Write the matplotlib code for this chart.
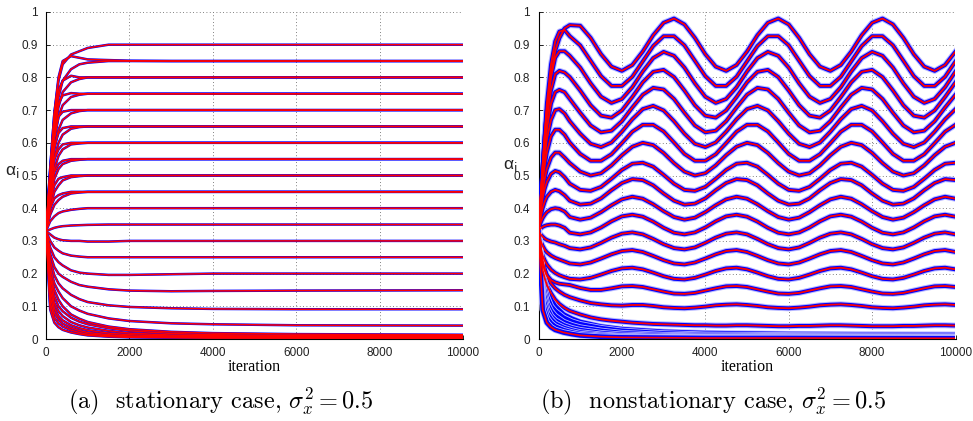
import matplotlib
matplotlib.use("Agg")
import matplotlib.pyplot as plt
from matplotlib.ticker import FuncFormatter

plt.rcParams['mathtext.fontset'] = 'cm'

# ---------------- data: stationary case (panel a) ----------------
T_A = [0, 100, 200, 300, 400, 600, 800, 1000, 1500, 2000, 3000, 4000, 6000, 10000]

A90 = [.33, .52, .69, .79, .84, .87, .88, .89, .90, .90, .90, .90, .90, .90]
A85 = [.33, .52, .69, .80, .85, .865, .86, .855, .853, .851, .85, .85, .85, .85]
A80 = [.33, .51, .67, .76, .79, .805, .80, .80, .80, .80, .80, .80, .80, .80]
A75 = [.33, .50, .65, .72, .745, .752, .75, .75, .75, .75, .75, .75, .75, .75]
A70 = [.33, .49, .62, .68, .695, .70, .70, .70, .70, .70, .70, .70, .70, .70]
A65 = [.33, .48, .59, .63, .645, .65, .65, .65, .65, .65, .65, .65, .65, .65]
A60 = [.33, .46, .55, .58, .595, .60, .60, .60, .60, .60, .60, .60, .60, .60]
A55 = [.33, .44, .51, .535, .545, .55, .55, .55, .55, .55, .55, .55, .55, .55]
A50 = [.33, .42, .47, .49, .495, .50, .50, .50, .50, .50, .50, .50, .50, .50]
A45 = [.33, .40, .43, .44, .445, .45, .45, .45, .45, .45, .45, .45, .45, .45]
A40 = [.33, .36, .375, .385, .39, .395, .398, .40, .40, .40, .40, .40, .40, .40]
A35 = [.33, .335, .34, .343, .345, .347, .348, .349, .35, .35, .35, .35, .35, .35]
A30 = [.33, .32, .31, .305, .302, .30, .30, .298, .298, .30, .30, .30, .30, .30]
A25 = [.33, .30, .28, .27, .262, .255, .252, .25, .25, .25, .25, .25, .25, .25]
A20 = [.33, .28, .25, .235, .225, .21, .203, .20, .196, .196, .198, .20, .20, .20]
A15 = [.33, .26, .22, .20, .19, .175, .165, .16, .152, .148, .146, .147, .148, .149]
A10 = [.33, .24, .195, .17, .155, .135, .122, .113, .103, .098, .094, .092, .091, .091]
A04 = [.33, .22, .17, .145, .125, .10, .087, .077, .063, .055, .048, .045, .042, .041]

# slower companions of the rising curves
S85 = [.33, .50, .65, .74, .79, .825, .84, .845, .85, .85, .85, .85, .85, .85]
S80 = [.33, .49, .63, .71, .755, .785, .795, .80, .80, .80, .80, .80, .80, .80]
S75 = [.33, .48, .61, .68, .715, .74, .747, .75, .75, .75, .75, .75, .75, .75]
S70 = [.33, .47, .58, .64, .67, .69, .697, .70, .70, .70, .70, .70, .70, .70]
S65 = [.33, .46, .55, .60, .625, .643, .648, .65, .65, .65, .65, .65, .65, .65]
S60 = [.33, .44, .52, .56, .58, .595, .598, .60, .60, .60, .60, .60, .60, .60]
S55 = [.33, .42, .49, .52, .535, .545, .548, .55, .55, .55, .55, .55, .55, .55]
S50 = [.33, .40, .45, .47, .485, .495, .498, .50, .50, .50, .50, .50, .50, .50]
S45 = [.33, .38, .41, .425, .435, .445, .448, .45, .45, .45, .45, .45, .45, .45]

# curves that die out towards zero (shared by both panels)
B1 = [.33, .20, .15, .12, .10, .075, .062, .052, .038, .030, .022, .018, .015, .013]
B2 = [.33, .19, .13, .10, .085, .065, .053, .045, .033, .025, .017, .013, .011, .010]
B3 = [.33, .17, .11, .085, .07, .052, .042, .035, .025, .018, .012, .010, .008, .007]
B4 = [.33, .15, .095, .07, .057, .042, .033, .027, .018, .013, .009, .007, .006, .005]
B5 = [.33, .13, .08, .06, .047, .034, .026, .020, .013, .009, .006, .005, .004, .004]
B6 = [.33, .11, .065, .048, .038, .027, .020, .015, .010, .007, .005, .004, .003, .003]
B7 = [.33, .09, .05, .036, .028, .020, .015, .011, .007, .005, .004, .003, .003, .002]

# ---------------- data: nonstationary case (panel b) ----------------
T_B = [0, 50, 100, 150, 200, 300, 400, 500, 625,
       750, 1000, 1250, 1500, 1750, 2000, 2250, 2500, 2750, 3000,
       3250, 3500, 3750, 4000, 4250, 4500, 4750, 5000, 5250, 5500,
       5750, 6000, 6250, 6500, 6750, 7000, 7250, 7500, 7750, 8000,
       8250, 8500, 8750, 9000, 9250, 9500, 9750, 10000]

N1 = [.33, .43, .53, .62, .70, .81, .88, .92, .95,
      .960, .958, .921, .871, .833, .820, .838, .879, .929, .967,
      .980, .962, .921, .871, .833, .820, .838, .879, .929, .967,
      .980, .962, .921, .871, .833, .820, .838, .879, .929, .967,
      .980, .962, .921, .871, .833, .820, .838, .879]
N2 = [.33, .43, .53, .63, .72, .84, .91, .94, .945,
      .926, .898, .851, .804, .774, .774, .802, .849, .896, .926,
      .926, .898, .851, .804, .774, .774, .802, .849, .896, .926,
      .926, .898, .851, .804, .774, .774, .802, .849, .896, .926,
      .926, .898, .851, .804, .774, .774, .802, .849]
N3 = [.33, .43, .53, .62, .70, .80, .86, .88, .88,
      .866, .830, .782, .741, .722, .734, .770, .818, .859, .878,
      .866, .830, .782, .741, .722, .734, .770, .818, .859, .878,
      .866, .830, .782, .741, .722, .734, .770, .818, .859, .878,
      .866, .830, .782, .741, .722, .734, .770, .818]
N4 = [.33, .43, .52, .60, .67, .76, .81, .82, .815,
      .801, .760, .715, .683, .677, .699, .740, .785, .817, .823,
      .801, .760, .715, .683, .677, .699, .740, .785, .817, .823,
      .801, .760, .715, .683, .677, .699, .740, .785, .817, .823,
      .801, .760, .715, .683, .677, .699, .740, .785]
N5 = [.33, .42, .51, .58, .64, .72, .755, .762, .755,
      .734, .692, .653, .632, .637, .666, .708, .747, .768, .763,
      .734, .692, .653, .632, .637, .666, .708, .747, .768, .763,
      .734, .692, .653, .632, .637, .666, .708, .747, .768, .763,
      .734, .692, .653, .632, .637, .666, .708, .747]
N6 = [.33, .42, .50, .56, .61, .67, .70, .703, .69,
      .666, .628, .597, .587, .601, .634, .672, .703, .713, .699,
      .666, .628, .597, .587, .601, .634, .672, .703, .713, .699,
      .666, .628, .597, .587, .601, .634, .672, .703, .713, .699,
      .666, .628, .597, .587, .601, .634, .672, .703]
N7 = [.33, .41, .48, .53, .57, .62, .64, .64, .625,
      .601, .566, .545, .545, .565, .599, .634, .655, .655, .635,
      .601, .566, .545, .545, .565, .599, .634, .655, .655, .635,
      .601, .566, .545, .545, .565, .599, .634, .655, .655, .635,
      .601, .566, .545, .545, .565, .599, .634, .655]
N8 = [.33, .40, .45, .49, .52, .555, .57, .57, .555,
      .538, .512, .500, .507, .531, .562, .588, .600, .593, .569,
      .538, .512, .500, .507, .531, .562, .588, .600, .593, .569,
      .538, .512, .500, .507, .531, .562, .588, .600, .593, .569,
      .538, .512, .500, .507, .531, .562, .588, .600]
N9 = [.33, .39, .43, .46, .48, .505, .514, .51, .495,
      .475, .456, .453, .465, .490, .517, .536, .539, .527, .502,
      .475, .456, .453, .465, .490, .517, .536, .539, .527, .502,
      .475, .456, .453, .465, .490, .517, .536, .539, .527, .502,
      .475, .456, .453, .465, .490, .517, .536, .539]
N10 = [.33, .37, .40, .42, .435, .45, .456, .452, .44,
       .423, .411, .414, .430, .455, .477, .489, .486, .470, .445,
       .423, .411, .414, .430, .455, .477, .489, .486, .470, .445,
       .423, .411, .414, .430, .455, .477, .489, .486, .470, .445,
       .423, .411, .414, .430, .455, .477, .489, .486]
N11 = [.33, .355, .37, .38, .388, .397, .40, .398, .39,
       .373, .365, .371, .388, .409, .427, .435, .429, .412, .391,
       .373, .365, .371, .388, .409, .427, .435, .429, .412, .391,
       .373, .365, .371, .388, .409, .427, .435, .429, .412, .391,
       .373, .365, .371, .388, .409, .427, .435, .429]
N12 = [.33, .338, .343, .346, .348, .35, .35, .347, .34,
       .325, .320, .326, .341, .360, .375, .380, .374, .359, .340,
       .325, .320, .326, .341, .360, .375, .380, .374, .359, .340,
       .325, .320, .326, .341, .360, .375, .380, .374, .359, .340,
       .325, .320, .326, .341, .360, .375, .380, .374]
N13 = [.33, .32, .313, .307, .303, .298, .295, .29, .285,
       .278, .274, .280, .294, .310, .322, .326, .320, .306, .290,
       .278, .274, .280, .294, .310, .322, .326, .320, .306, .290,
       .278, .274, .280, .294, .310, .322, .326, .320, .306, .290,
       .278, .274, .280, .294, .310, .322, .326, .320]
N14 = [.33, .30, .285, .273, .265, .255, .248, .243, .237,
       .231, .228, .234, .246, .259, .269, .272, .266, .254, .241,
       .231, .228, .234, .246, .259, .269, .272, .266, .254, .241,
       .231, .228, .234, .246, .259, .269, .272, .266, .254, .241,
       .231, .228, .234, .246, .259, .269, .272, .266]
N15 = [.33, .28, .255, .24, .228, .212, .202, .195, .189,
       .184, .182, .187, .197, .208, .216, .218, .213, .203, .192,
       .184, .182, .187, .197, .208, .216, .218, .213, .203, .192,
       .184, .182, .187, .197, .208, .216, .218, .213, .203, .192,
       .184, .182, .187, .197, .208, .216, .218, .213]
N16 = [.33, .26, .23, .21, .195, .18, .173, .169, .167,
       .165, .156, .150, .150, .155, .161, .162, .159, .152, .145,
       .139, .138, .141, .148, .155, .161, .162, .159, .152, .145,
       .139, .138, .141, .148, .155, .161, .162, .159, .152, .145,
       .139, .138, .141, .148, .155, .161, .162, .159]
N17 = [.33, .27, .24, .215, .195, .17, .155, .145, .135,
       .128, .118, .110, .106, .103, .102, .104, .104, .101, .097,
       .095, .094, .096, .099, .103, .105, .106, .104, .101, .097,
       .095, .094, .096, .099, .103, .105, .106, .104, .101, .097,
       .095, .094, .096, .099, .103, .105, .106, .104]
N18 = [.33, .25, .21, .185, .165, .14, .12, .107, .095,
       .086, .075, .066, .060, .056, .053, .050, .048, .046, .045,
       .044, .043, .042, .042, .041, .041, .042, .042, .041, .040,
       .039, .039, .040, .040, .041, .042, .042, .041, .040, .039,
       .039, .039, .040, .040, .041, .042, .042, .041]

RISE_A = [A90, A85, A80, A75, A70, A65, A60, A55, A50, A45, A40, A35,
          S85, S80, S75, S70, S65, S60, S55, S50, S45]
FALL_A = [A30, A25, A20, A15, A10, A04]
BOTTOM = [B1, B2, B3, B4, B5, B6, B7]
WAVE_B = [N1, N2, N3, N4, N5, N6, N7, N8, N9, N10, N11, N12, N13, N14,
          N15, N16, N17, N18]

X_TICKS = [0, 2000, 4000, 6000, 8000, 10000]
Y_TICKS = [0, 0.1, 0.2, 0.3, 0.4, 0.5, 0.6, 0.7, 0.8, 0.9, 1.0]
Y_LABEL = r'α$_\mathrm{i}$'
X_LABEL = 'iteration'
CAPTIONS = [r'(a)  stationary case, $\sigma_x^2 = 0.5$',
            r'(b)  nonstationary case, $\sigma_x^2 = 0.5$']

BLUE = '#0000ff'
RED = '#ff0000'
W, H = 973, 421

fig = plt.figure(figsize=(W / 100, H / 100), dpi=100)
ax_a = fig.add_axes([46 / W, 1 - 339 / H, 417 / W, 327 / H])
ax_b = fig.add_axes([538.5 / W, 1 - 339 / H, 417 / W, 327 / H])


def style(ax):
    ax.set_xlim(0, 10000)
    ax.set_ylim(0, 1)
    ax.set_xticks(X_TICKS)
    ax.set_yticks(Y_TICKS)
    ax.yaxis.set_major_formatter(FuncFormatter(lambda v, p: '%g' % round(v, 1)))
    ax.xaxis.set_major_formatter(FuncFormatter(lambda v, p: '%d' % v))
    ax.grid(True, linestyle=(0, (1, 3)), color='0.35', lw=0.6)
    ax.set_axisbelow(True)
    for s in ('top', 'right'):
        ax.spines[s].set_visible(False)
    for s in ('left', 'bottom'):
        ax.spines[s].set_linewidth(0.8)
    ax.tick_params(direction='in', length=3, width=0.6, labelsize=8.5, pad=6)
    for lab in ax.get_xticklabels() + ax.get_yticklabels():
        lab.set_fontfamily('Liberation Sans')
        lab.set_color('#222222')


# panel a
for c in RISE_A + FALL_A + BOTTOM:
    ax_a.plot(T_A, c, color=BLUE, lw=1.8, solid_capstyle='butt', zorder=2)
for c in RISE_A + FALL_A + BOTTOM:
    ax_a.plot(T_A, c, color=RED, lw=1.1, zorder=3)

# panel b
for c in WAVE_B:
    ax_b.plot(T_B, c, color='#b8b8ff', lw=4.3, zorder=2)
for c in WAVE_B:
    ax_b.plot(T_B, c, color=BLUE, lw=2.8, zorder=3)
for c in BOTTOM:
    ax_b.plot(T_A, c, color=RED, lw=1.2, zorder=3)
for c in BOTTOM:
    ax_b.plot(T_A, c, color='#b8b8ff', lw=4.6, zorder=4)
    ax_b.plot(T_A, c, color=BLUE, lw=3.4, zorder=4)
for c in WAVE_B:
    ax_b.plot(T_B, c, color=RED, lw=1.3, zorder=5)
ax_b.plot(T_A, B7, color=RED, lw=1.2, zorder=5)

for ax in (ax_a, ax_b):
    style(ax)

# labels
fig.text(254.5 / W, 1 - 367 / H, X_LABEL, ha='center', va='center',
         fontsize=11.5, fontfamily='Liberation Serif')
fig.text(747 / W, 1 - 367 / H, X_LABEL, ha='center', va='center',
         fontsize=11.5, fontfamily='Liberation Serif')
# y label: alpha with subscript i (MATLAB style), one text each
fig.text(5 / W, 1 - 175 / H, Y_LABEL, ha='left', va='baseline',
         fontsize=12.5, fontfamily='Liberation Sans', math_fontfamily='dejavusans',
         color='#222222')
fig.text(503 / W, 1 - 169 / H, Y_LABEL, ha='left', va='baseline',
         fontsize=12.5, fontfamily='Liberation Sans', math_fontfamily='dejavusans',
         color='#222222')
fig.text(221 / W, 1 - 408 / H, CAPTIONS[0], ha='center', va='baseline',
         fontsize=17.5, fontfamily='cmr10')
fig.text(713 / W, 1 - 408 / H, CAPTIONS[1], ha='center', va='baseline',
         fontsize=17.5, fontfamily='cmr10')

fig.savefig('out.png', dpi=100)
